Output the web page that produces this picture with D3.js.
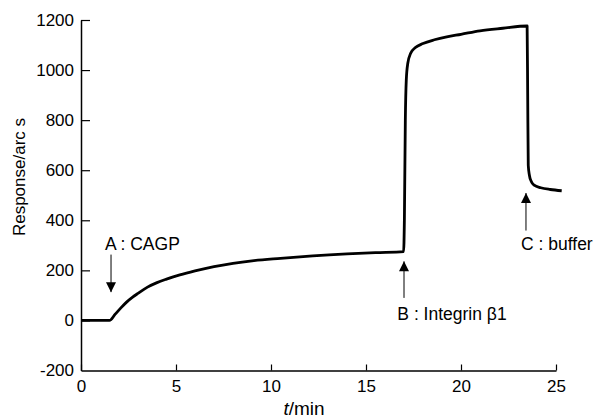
<!DOCTYPE html>
<html>
<head>
<meta charset="utf-8">
<script src="https://cdn.jsdelivr.net/npm/d3@7"></script>
<style>
  html, body { margin: 0; padding: 0; background: #fff; }
  svg { display: block; font-family: "Liberation Sans", Arial, sans-serif; }
</style>
</head>
<body>
<svg id="chart" width="595" height="418"></svg>
<script>
// ---- data ----
const timeMin = [0, 1.5, 1.8, 2.1, 2.4, 2.7, 3.0, 3.5, 4.0, 4.5, 5.2, 6, 7, 8, 9, 10.5, 12.2, 14, 15.5, 16.98,
  17.02, 17.07, 17.12, 17.2, 17.35, 17.6, 18.0, 18.6, 19.25, 20, 21, 22.2, 23.48,
  23.51, 23.54, 23.6, 23.7, 23.85, 24.2, 24.7, 25.3];
const response = [0, 0, 25, 50, 73, 92, 108, 133, 151, 165, 182, 198, 215, 228, 238, 248, 258, 266, 271, 275,
  400, 800, 960, 1027, 1067, 1090, 1106, 1121, 1133, 1143, 1157, 1167, 1176,
  900, 620, 580, 555, 540, 530, 523, 518];
const xTicks = [0, 5, 10, 15, 20, 25];
const yTicks = [-200, 0, 200, 400, 600, 800, 1000, 1200];
const annoLabels = ["A : CAGP", "B : Integrin \u03B21", "C : buffer"];
const annoArrowT = [1.58, 17.0, 23.42];
const annoArrowFrom = [263, 90, 359];
const annoArrowTo = [113, 236, 509];
const annoTextT = [1.26, 16.65, 23.16];
const annoTextV = [283, 1, 283];

// ---- layout ----
const svg = d3.select("#chart");
const x = d3.scaleLinear().domain([0, 25]).range([81, 556]);
const y = d3.scaleLinear().domain([-200, 1200]).range([370.5, 20]);
const FONT = "'Liberation Sans', Arial, sans-serif";

const defs = svg.append("defs");
defs.append("marker").attr("id", "arrow")
  .attr("viewBox", "0 0 10 10").attr("refX", 10).attr("refY", 5)
  .attr("markerWidth", 11).attr("markerHeight", 10).attr("markerUnits", "userSpaceOnUse")
  .attr("orient", "auto")
  .append("path").attr("d", "M0,0 L10,5 L0,10 Z").attr("fill", "#000");

// axes
const xAxis = d3.axisBottom(x).tickValues(xTicks).tickFormat(d => String(d))
  .tickSizeInner(-6).tickSizeOuter(0).tickPadding(9);
const gx = svg.append("g").attr("transform", `translate(0,${y(-200)})`).call(xAxis);
gx.select(".domain").attr("stroke", "#000").attr("stroke-width", 1.5);
gx.selectAll(".tick line").attr("stroke", "#000").attr("stroke-width", 1.2);
gx.selectAll(".tick text").attr("font-size", 17).attr("fill", "#000").attr("font-family", FONT);

const yAxis = d3.axisLeft(y).tickValues(yTicks).tickFormat(d => String(d))
  .tickSizeInner(-9).tickSizeOuter(0).tickPadding(7);
const gy = svg.append("g").attr("transform", `translate(${x(0)},0)`).call(yAxis);
gy.select(".domain").attr("stroke", "#000").attr("stroke-width", 1.5);
gy.selectAll(".tick line").attr("stroke", "#000").attr("stroke-width", 1.2);
gy.selectAll(".tick").filter(d => d === -200).select("line").remove();
gy.selectAll(".tick text").attr("font-size", 17).attr("fill", "#000").attr("font-family", FONT);

// axis titles
svg.append("text").attr("transform", `translate(25,${177}) rotate(-90)`)
  .attr("text-anchor", "middle").attr("font-size", 17).attr("fill", "#000")
  .text("Response/arc s");
const xt = svg.append("text").attr("x", 304).attr("y", 415)
  .attr("text-anchor", "middle").attr("font-size", 19).attr("fill", "#000");
xt.append("tspan").attr("font-style", "italic").text("t");
xt.append("tspan").text("/min");

// data line
const pts = timeMin.map((t, i) => [t, response[i]]);
const line = d3.line().x(d => x(d[0])).y(d => y(d[1])).curve(d3.curveMonotoneX);
svg.append("path").datum(pts).attr("d", line)
  .attr("fill", "none").attr("stroke", "#000").attr("stroke-width", 2.8)
  .attr("stroke-linejoin", "round");

// annotations
annoLabels.forEach((lab, i) => {
  svg.append("line")
    .attr("x1", x(annoArrowT[i])).attr("x2", x(annoArrowT[i]))
    .attr("y1", y(annoArrowFrom[i])).attr("y2", y(annoArrowTo[i]))
    .attr("stroke", "#000").attr("stroke-width", 1)
    .attr("marker-end", "url(#arrow)");
  svg.append("text").attr("x", x(annoTextT[i])).attr("y", y(annoTextV[i]))
    .attr("font-size", 17.5).attr("fill", "#000").text(lab);
});
</script>
</body>
</html>
